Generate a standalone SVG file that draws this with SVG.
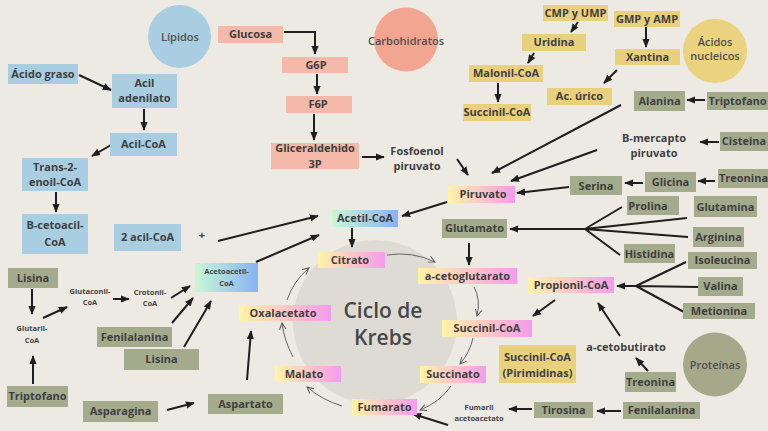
<svg xmlns="http://www.w3.org/2000/svg" width="768" height="431" viewBox="0 0 768 431">
<defs>
<style>
.t{font-family:"Open Sans","Liberation Sans",sans-serif;font-weight:700;font-size:11px;fill:#3f3f3f;text-anchor:middle}
.s{font-family:"Open Sans","Liberation Sans",sans-serif;font-weight:700;font-size:7.5px;fill:#444;text-anchor:middle}
.c{font-family:"Open Sans","Liberation Sans",sans-serif;font-weight:600;font-size:11px;fill:#505050;text-anchor:middle}
.k{font-family:"Open Sans","Liberation Sans",sans-serif;font-weight:600;font-size:21px;fill:#474747;text-anchor:middle}
.blue{fill:#A9CDE1}
.pink{fill:#F4B9A9}
.yel{fill:#E9D07D}
.grn{fill:#A4AB8D}
.yp{fill:url(#gYP)}
.gb{fill:url(#gGB)}
.a{fill:none;stroke:#1e1e1e;stroke-width:2;marker-end:url(#ah)}
.l{fill:none;stroke:#1e1e1e;stroke-width:2}
.th{fill:none;stroke:#555;stroke-width:0.9;marker-end:url(#ch)}
</style>
<linearGradient id="gYP" x1="0" y1="0" x2="1" y2="0">
<stop offset="0" stop-color="#FFF3A8"/>
<stop offset="0.5" stop-color="#FBC7C6"/>
<stop offset="1" stop-color="#F49CEC"/>
</linearGradient>
<linearGradient id="gGB" x1="0" y1="0" x2="1" y2="0">
<stop offset="0" stop-color="#C9F7D6"/>
<stop offset="1" stop-color="#88B2F3"/>
</linearGradient>
<marker id="ah" markerUnits="userSpaceOnUse" markerWidth="9" markerHeight="9" viewBox="0 0 10 10" refX="9" refY="5" orient="auto">
<path d="M0,1 L10,5 L0,9 z" fill="#1e1e1e"/>
</marker>
<marker id="ch" markerUnits="userSpaceOnUse" markerWidth="8" markerHeight="8" viewBox="0 0 10 10" refX="9" refY="5" orient="auto">
<path d="M1,1 L9,5 L1,9" fill="none" stroke="#555" stroke-width="1.2"/>
</marker>
</defs>
<rect width="768" height="431" fill="#EDEAE3"/>

<g id="krebs-circle">
<circle cx="375" cy="322" r="82" fill="#DEDBD4"/>
<text class="k" x="383" y="318">Ciclo de</text>
<text class="k" x="383" y="345">Krebs</text>
</g>

<g id="lipidos"><circle cx="179.5" cy="36.5" r="31.5" fill="#A9CDE1"/><text class="c" x="180" y="41">Lípidos</text></g>
<g id="carbohidratos"><circle cx="406" cy="39.5" r="32" fill="#F2A692"/><text class="c" x="406" y="45">Carbohidratos</text></g>
<g id="acidos-nucleicos"><circle cx="715" cy="51" r="32" fill="#EAD27E"/><text class="c" x="715" y="46">Ácidos</text><text class="c" x="715" y="60">nucleicos</text></g>
<g id="proteinas"><circle cx="715" cy="364.5" r="32" fill="#A5A98A"/><text class="c" x="715" y="368.5">Proteínas</text></g>

<g id="connectors">
<path class="a" d="M284,32 H315 V54"/>
<path class="a" d="M317,74 V94"/>
<path class="a" d="M314,114 V140"/>
<path class="a" d="M362,157 H384"/>
<path class="a" d="M457,159 L468,175"/>
<path class="a" d="M621,105 L492,173"/>
<path class="a" d="M597,150 L511,181"/>
<path class="a" d="M569,187 L517,193"/>
<path class="a" d="M643,183 H625"/>
<path class="a" d="M715,181 H698"/>
<path class="a" d="M719,142 H700"/>
<path class="a" d="M705,100 H687"/>
<path class="a" d="M578,22 L571,32"/>
<path class="a" d="M646,27 V47"/>
<path class="a" d="M534,53 L528,63"/>
<path class="a" d="M498,83 V102"/>
<path class="a" d="M617,70 L604,83"/>
<path class="a" d="M447,202 L402,216"/>
<path class="a" d="M352,228 V247"/>
<path class="a" d="M218,241 L318,216"/>
<path class="a" d="M256,262 L319,235"/>
<path class="l" d="M585,229 L622,207 M585,229 L687,218 M585,229 L688,237 M585,229 L620,255"/>
<path class="a" d="M585,229 H510"/>
<path class="a" d="M469,243 V265"/>
<path class="l" d="M636,286 L686,262 M636,286 L698,287 M636,286 L684,312"/>
<path class="a" d="M636,286 H617"/>
<path class="a" d="M620,336 L598,303"/>
<path class="a" d="M648,371 L636,358"/>
<path class="a" d="M555,300 L533,316"/>
<path class="a" d="M621,411 H597"/>
<path class="a" d="M532,409 H509"/>
<path class="a" d="M448,425 L413,414"/>
<path class="a" d="M79,75 L111,90"/>
<path class="a" d="M144,109 V130"/>
<path class="a" d="M111,145 L92,156"/>
<path class="a" d="M56,192 V212"/>
<path class="a" d="M32,289 V314"/>
<path class="a" d="M33,384 V356"/>
<path class="a" d="M43,318 L67,307"/>
<path class="a" d="M113,299 H129"/>
<path class="a" d="M171,298 L190,286"/>
<path class="a" d="M172,323 L193,298"/>
<path class="a" d="M184,347 L211,301"/>
<path class="a" d="M167,410 L194,403"/>
<path class="a" d="M247,380 L251,331"/>
<path class="th" d="M387,255 Q412,251 435,262"/>
<path class="th" d="M474,287 Q481,300 477,316"/>
<path class="th" d="M473,338 Q470,352 460,364"/>
<path class="th" d="M451,386 Q440,402 420,410"/>
<path class="th" d="M342,406 Q322,400 307,387"/>
<path class="th" d="M293,357 Q284,340 282,323"/>
<path class="th" d="M287,300 Q294,280 309,268"/>
</g>

<g id="acido-graso"><rect class="blue" x="8" y="64" width="70" height="20"/><text class="t" x="43" y="78">Ácido graso</text></g>
<g id="acil-adenilato"><rect class="blue" x="112" y="74" width="65" height="34"/><text class="t" x="144.5" y="87">Acil</text><text class="t" x="144.5" y="102">adenilato</text></g>
<g id="acil-coa"><rect class="blue" x="110" y="133" width="67" height="23"/><text class="t" x="143.5" y="148">Acil-CoA</text></g>
<g id="trans-2-enoil-coa"><rect class="blue" x="22" y="158" width="66" height="33"/><text class="t" x="55" y="171">Trans-2-</text><text class="t" x="55" y="186">enoil-CoA</text></g>
<g id="b-cetoacil-coa"><rect class="blue" x="22" y="214" width="66" height="40"/><text class="t" x="55" y="229">B-cetoacil-</text><text class="t" x="55" y="246">CoA</text></g>
<g id="dos-acil-coa"><rect class="blue" x="114" y="224" width="67" height="27"/><text class="t" x="147.5" y="241">2 acil-CoA</text></g>
<g id="plus"><text class="t" x="202" y="239">+</text></g>

<g id="glucosa"><rect class="pink" x="218" y="26" width="65" height="17"/><text class="t" x="250.5" y="38">Glucosa</text></g>
<g id="g6p"><rect class="pink" x="282" y="57" width="66" height="16"/><text class="t" x="316" y="69">G6P</text></g>
<g id="f6p"><rect class="pink" x="286" y="96" width="66" height="17"/><text class="t" x="318" y="108">F6P</text></g>
<g id="gliceraldehido"><rect class="pink" x="271" y="143" width="88" height="26"/><text class="t" x="315" y="152">Gliceraldehido</text><text class="t" x="315" y="168">3P</text></g>
<g id="fosfoenol"><text class="t" x="417" y="155">Fosfoenol</text><text class="t" x="417" y="170">piruvato</text></g>

<g id="cmp-ump"><rect class="yel" x="543" y="5" width="65" height="16"/><text class="t" x="575.5" y="17">CMP y UMP</text></g>
<g id="gmp-amp"><rect class="yel" x="614" y="11" width="66" height="16"/><text class="t" x="647" y="23">GMP y AMP</text></g>
<g id="uridina"><rect class="yel" x="522" y="34" width="64" height="17"/><text class="t" x="554" y="46">Uridina</text></g>
<g id="xantina"><rect class="yel" x="615" y="49" width="65" height="16"/><text class="t" x="647.5" y="61">Xantina</text></g>
<g id="malonil-coa"><rect class="yel" x="469" y="65" width="74" height="17"/><text class="t" x="506" y="77">Malonil-CoA</text></g>
<g id="succinil-coa-top"><rect class="yel" x="463" y="104" width="68" height="17"/><text class="t" x="497" y="116">Succinil-CoA</text></g>
<g id="ac-urico"><rect class="yel" x="547" y="88" width="65" height="17"/><text class="t" x="579.5" y="100">Ac. úrico</text></g>
<g id="succinil-pirimidinas"><rect class="yel" x="499" y="345" width="77" height="38"/><text class="t" x="537.5" y="361">Succinil-CoA</text><text class="t" x="537.5" y="377">(Pirimidinas)</text></g>

<g id="alanina"><rect class="grn" x="634" y="91" width="51" height="20"/><text class="t" x="659.5" y="105">Alanina</text></g>
<g id="triptofano-r"><rect class="grn" x="707" y="92" width="61" height="18"/><text class="t" x="737.5" y="105">Triptofano</text></g>
<g id="b-mercapto"><text class="t" x="654" y="142">B-mercapto</text><text class="t" x="654" y="157">piruvato</text></g>
<g id="cisteina"><rect class="grn" x="720" y="132" width="48" height="19"/><text class="t" x="744" y="145">Cisteina</text></g>
<g id="treonina-u"><rect class="grn" x="718" y="169" width="51" height="19"/><text class="t" x="743.5" y="182">Treonina</text></g>
<g id="glicina"><rect class="grn" x="645" y="172" width="51" height="20"/><text class="t" x="670.5" y="186">Glicina</text></g>
<g id="serina"><rect class="grn" x="570" y="176" width="52" height="19"/><text class="t" x="596" y="190">Serina</text></g>
<g id="prolina"><rect class="grn" x="627" y="196" width="52" height="19"/><text class="t" x="648" y="210">Prolina</text></g>
<g id="glutamina"><rect class="grn" x="694" y="196" width="63" height="21"/><text class="t" x="725.5" y="211">Glutamina</text></g>
<g id="arginina"><rect class="grn" x="693" y="227" width="51" height="20"/><text class="t" x="718.5" y="241">Arginina</text></g>
<g id="histidina"><rect class="grn" x="624" y="244" width="51" height="19"/><text class="t" x="649.5" y="258">Histidina</text></g>
<g id="glutamato"><rect class="grn" x="442" y="219" width="65" height="19"/><text class="t" x="474.5" y="232">Glutamato</text></g>
<g id="isoleucina"><rect class="grn" x="688" y="252" width="69" height="17"/><text class="t" x="722.5" y="264">Isoleucina</text></g>
<g id="valina"><rect class="grn" x="698" y="277" width="45" height="19"/><text class="t" x="720.5" y="290">Valina</text></g>
<g id="metionina"><rect class="grn" x="683" y="303" width="72" height="16"/><text class="t" x="719" y="315">Metionina</text></g>
<g id="a-cetobutirato"><text class="t" x="626" y="351">a-cetobutirato</text></g>
<g id="treonina-l"><rect class="grn" x="625" y="372" width="51" height="20"/><text class="t" x="650.5" y="386">Treonina</text></g>
<g id="tirosina"><rect class="grn" x="534" y="402" width="59" height="16"/><text class="t" x="563.5" y="414">Tirosina</text></g>
<g id="fenilalanina-r"><rect class="grn" x="623" y="402" width="77" height="17"/><text class="t" x="661.5" y="414">Fenilalanina</text></g>
<g id="fumaril-acetoacetato"><text class="s" x="479" y="410">Fumaril</text><text class="s" x="479" y="421">acetoacetato</text></g>
<g id="lisina-l"><rect class="grn" x="8" y="268" width="50" height="20"/><text class="t" x="33" y="282">Lisina</text></g>
<g id="glutaril-coa"><text class="s" x="32" y="331">Glutaril-</text><text class="s" x="32" y="343">CoA</text></g>
<g id="triptofano-l"><rect class="grn" x="7" y="386" width="61" height="21"/><text class="t" x="37.5" y="400">Triptofano</text></g>
<g id="glutaconil-coa"><text class="s" x="90" y="294">Glutaconil-</text><text class="s" x="90" y="305">CoA</text></g>
<g id="crotonil-coa"><text class="s" x="150" y="295">Crotonil-</text><text class="s" x="150" y="306">CoA</text></g>
<g id="fenilalanina-l"><rect class="grn" x="97" y="327" width="75" height="20"/><text class="t" x="134.5" y="341">Fenilalanina</text></g>
<g id="lisina-m"><rect class="grn" x="124" y="349" width="75" height="21"/><text class="t" x="161.5" y="363">Lisina</text></g>
<g id="asparagina"><rect class="grn" x="83" y="401" width="75" height="21"/><text class="t" x="120.5" y="415">Asparagina</text></g>
<g id="aspartato"><rect class="grn" x="208" y="394" width="75" height="20"/><text class="t" x="245.5" y="408">Aspartato</text></g>

<g id="acetil-coa"><rect class="gb" x="332" y="210" width="66" height="17"/><text class="t" x="365" y="222">Acetil-CoA</text></g>
<g id="acetoacetil-coa"><rect class="gb" x="195" y="263" width="63" height="29"/><text class="s" x="226.5" y="274">Acetoacetil-</text><text class="s" x="226.5" y="286">CoA</text></g>
<g id="piruvato"><rect class="yp" x="448" y="186" width="67" height="17"/><text class="t" x="483" y="198">Piruvato</text></g>
<g id="citrato"><rect class="yp" x="318" y="252" width="67" height="16"/><text class="t" x="350" y="264">Citrato</text></g>
<g id="a-cetoglutarato"><rect class="yp" x="418" y="268" width="99" height="16"/><text class="t" x="467.5" y="280">a-cetoglutarato</text></g>
<g id="succinil-coa"><rect class="yp" x="442" y="320" width="90" height="17"/><text class="t" x="487" y="332">Succinil-CoA</text></g>
<g id="succinato"><rect class="yp" x="420" y="366" width="66" height="17"/><text class="t" x="453" y="378">Succinato</text></g>
<g id="fumarato"><rect class="yp" x="352" y="399" width="65" height="16"/><text class="t" x="384.5" y="411">Fumarato</text></g>
<g id="malato"><rect class="yp" x="275" y="366" width="66" height="16"/><text class="t" x="304" y="378">Malato</text></g>
<g id="oxalacetato"><rect class="yp" x="239" y="305" width="92" height="16"/><text class="t" x="283" y="317">Oxalacetato</text></g>
<g id="propionil-coa"><rect class="yp" x="528" y="277" width="86" height="16"/><text class="t" x="571" y="289">Propionil-CoA</text></g>
</svg>
